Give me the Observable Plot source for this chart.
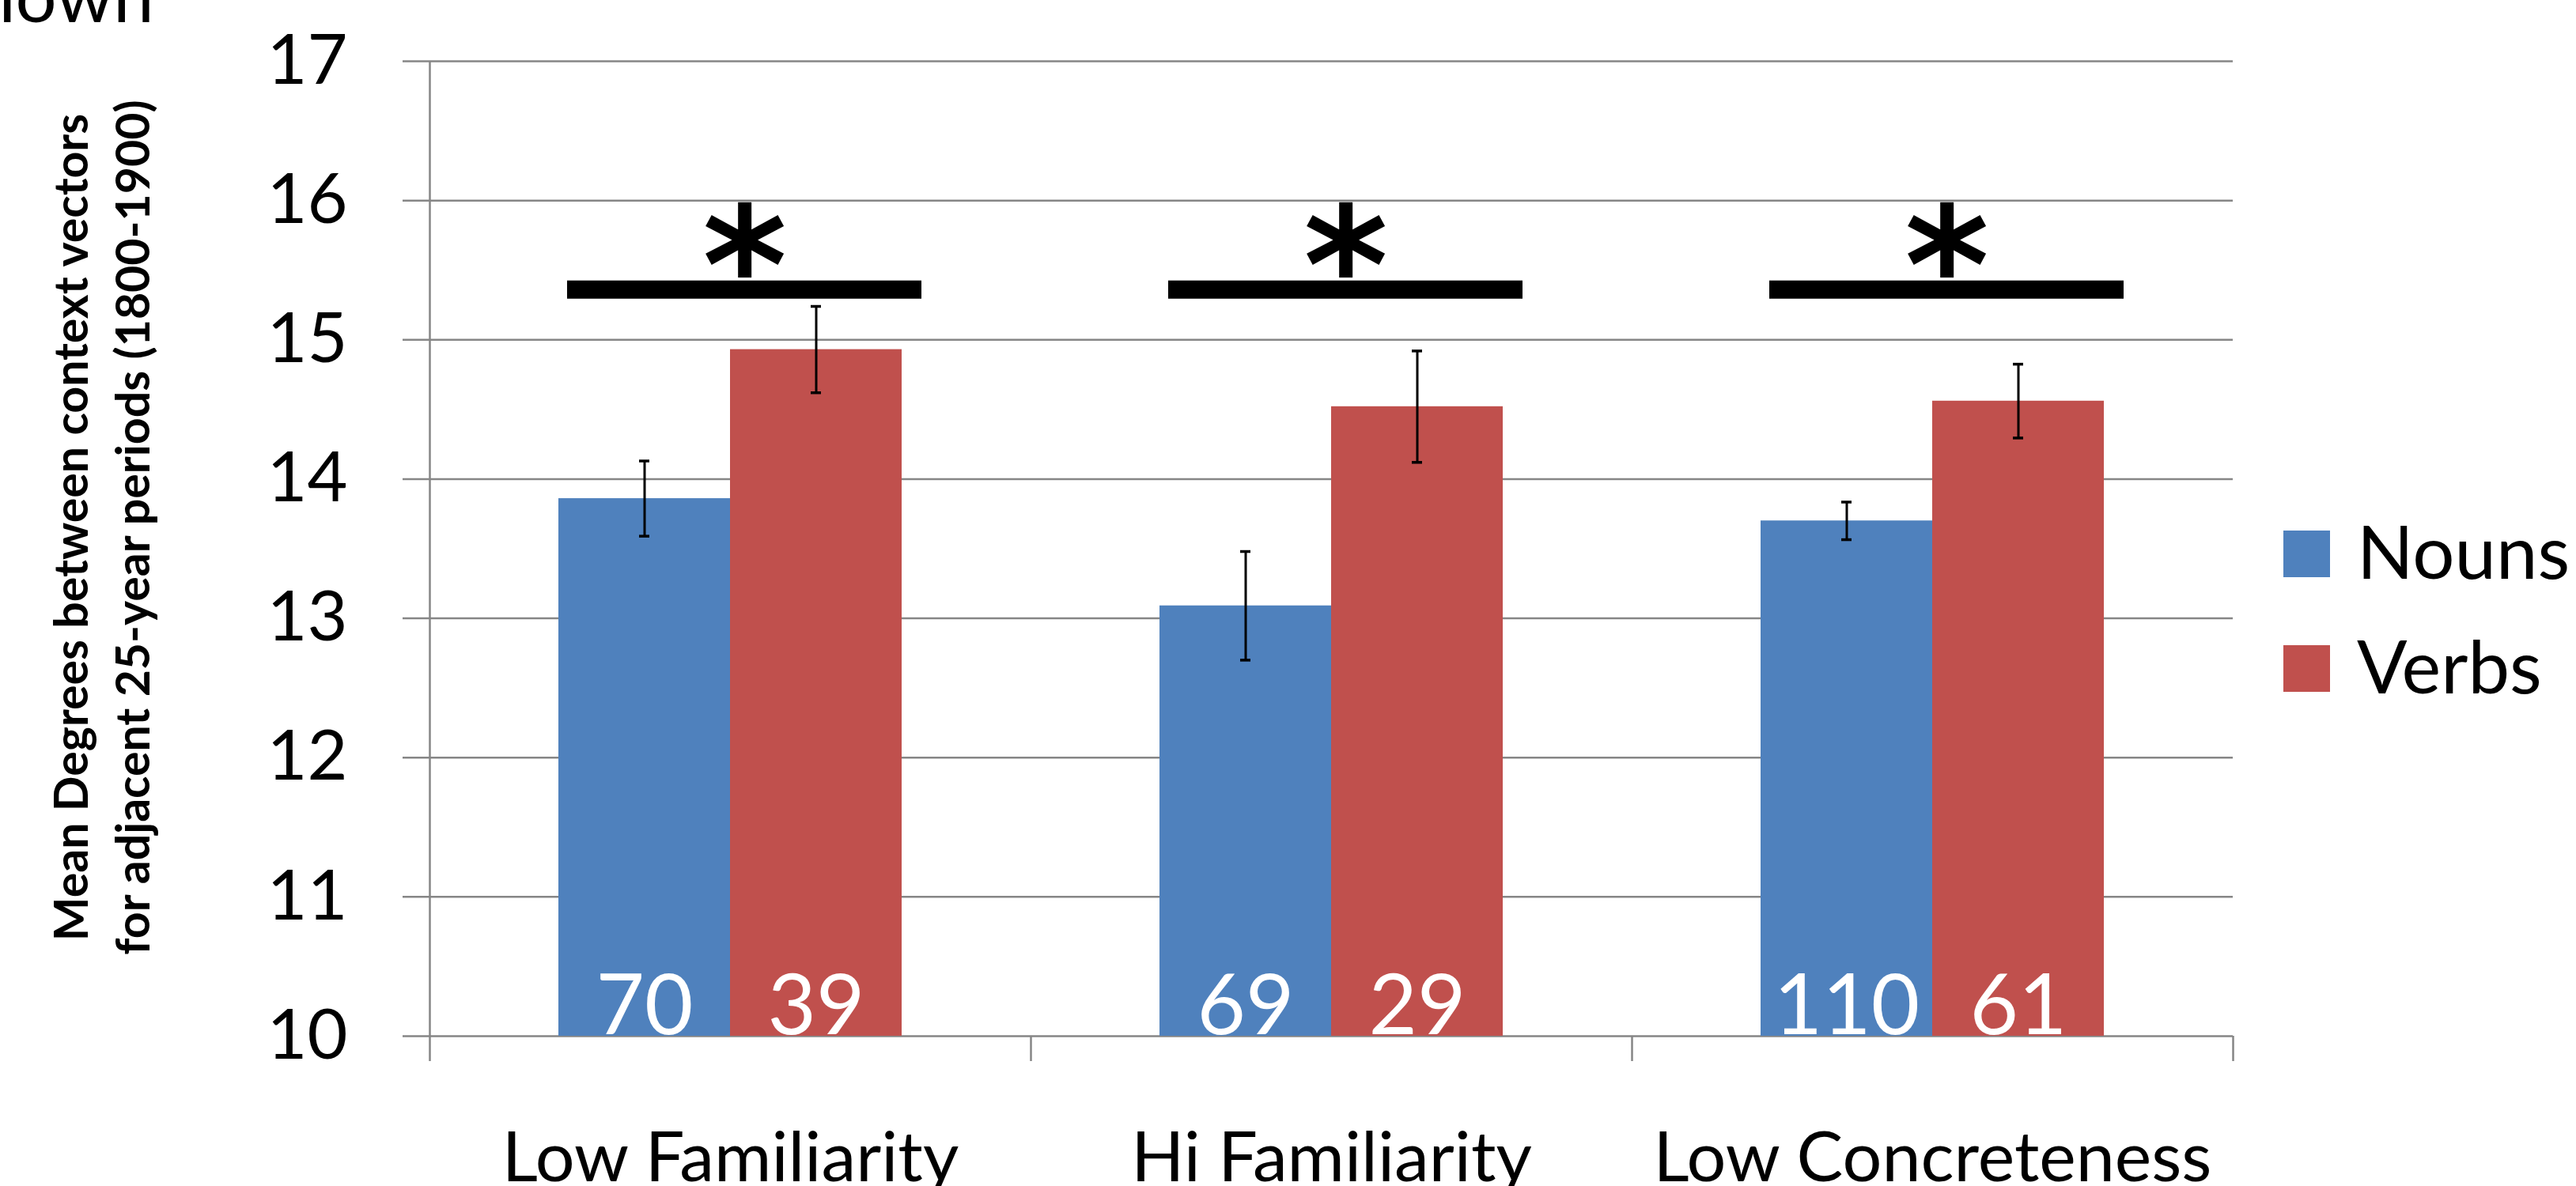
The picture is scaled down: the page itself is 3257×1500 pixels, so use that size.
<!DOCTYPE html>
<html>
<head>
<meta charset="utf-8">
<script src="https://cdn.jsdelivr.net/npm/d3@7"></script>
<script src="https://cdn.jsdelivr.net/npm/@observablehq/plot@0.6"></script>
<style>
  html, body { margin: 0; padding: 0; background: #ffffff; overflow: hidden; }
  #wrap { position: relative; width: 3257px; height: 1500px; overflow: hidden; }
  #chart { position: absolute; left: 0; top: 0; }
  #legend { position: absolute; left: 0; top: 0; pointer-events: none; }
</style>
</head>
<body>
<div id="wrap">
  <div id="chart"></div>
  <svg id="legend" width="3257" height="1500"></svg>
</div>
<script>
// ---------- data ----------
const categories = ["Low Familiarity", "Hi Familiarity", "Low Concreteness"];
const series = ["Nouns", "Verbs"];
const colors = ["#4F81BD", "#C0504D"];
const nounMeans = [13.86, 13.09, 13.70];
const verbMeans = [14.93, 14.52, 14.56];
const nounErr = [0.27, 0.39, 0.135];
const verbErr = [0.31, 0.40, 0.265];
const nounCounts = [70, 69, 110];
const verbCounts = [39, 29, 61];
const sigLevel = [15.36, 15.36, 15.36];
const starLevel = [15.71, 15.71, 15.71];
const yTicks = [10, 11, 12, 13, 14, 15, 16, 17];
const yDomain = [10, 17];
const yTitle = ["Mean Degrees between context vectors", "for adjacent 25-year periods (1800-1900)"];
const topFragment = "shown";

// ---------- layout ----------
const W = 3257, H = 1500;
const ML = 543, MR = 434, MT = 77, MB = 190;
const facetW = (W - ML - MR) / categories.length;
const unitPx = (H - MT - MB) / (yDomain[1] - yDomain[0]);
const tickLen = 32 / unitPx;
const GRID = "#868686";
const FONT = "Lato, 'Open Sans', sans-serif";

const rows = categories.flatMap((c, i) => [
  {category: c, series: series[0], value: nounMeans[i], err: nounErr[i], n: nounCounts[i]},
  {category: c, series: series[1], value: verbMeans[i], err: verbErr[i], n: verbCounts[i]}
]);

const chart = Plot.plot({
  width: W,
  height: H,
  marginLeft: ML,
  marginRight: MR,
  marginTop: MT,
  marginBottom: MB,
  style: {fontFamily: FONT, fontSize: "88px", background: "transparent", overflow: "visible", color: "black"},
  fx: {domain: categories, padding: 0, label: null, tickSize: 0, tickPadding: 121, axis: "bottom"},
  x: {domain: series, paddingInner: 0, paddingOuter: 0.75, axis: null},
  y: {domain: yDomain, axis: null},
  color: {domain: series, range: colors},
  marks: [
    Plot.gridY(yTicks, {stroke: GRID, strokeOpacity: 1, strokeWidth: 2.5}),
    Plot.axisY(yTicks, {tickSize: 34, tickPadding: 70, stroke: GRID, strokeWidth: 2.5, fill: "black",
      fontSize: 88, label: null, tickFormat: d => String(d)}),
    // y axis line (extends below baseline like a category tick)
    Plot.ruleX([categories[0]], {fx: d => d, x: null, y1: yDomain[0] - tickLen, y2: yDomain[1],
      dx: -facetW / 2, stroke: GRID, strokeWidth: 2.5}),
    // category boundary ticks
    Plot.ruleX(categories.slice(1), {fx: d => d, x: null, y1: yDomain[0] - tickLen, y2: yDomain[0],
      dx: -facetW / 2, stroke: GRID, strokeWidth: 2.5}),
    Plot.ruleX([categories[categories.length - 1]], {fx: d => d, x: null, y1: yDomain[0] - tickLen, y2: yDomain[0],
      dx: facetW / 2, stroke: GRID, strokeWidth: 2.5}),
    // bars
    Plot.barY(rows, {fx: "category", x: "series", y1: yDomain[0], y2: "value", fill: "series"}),
    // error bars
    Plot.ruleX(rows, {fx: "category", x: "series", y1: d => d.value - d.err, y2: d => d.value + d.err,
      stroke: "black", strokeWidth: 3}),
    Plot.tickY(rows, {fx: "category", x: "series", y: d => d.value - d.err, insetLeft: 102, insetRight: 102,
      stroke: "black", strokeWidth: 3.5}),
    Plot.tickY(rows, {fx: "category", x: "series", y: d => d.value + d.err, insetLeft: 102, insetRight: 102,
      stroke: "black", strokeWidth: 3.5}),
    // counts
    Plot.text(rows, {fx: "category", x: "series", y: yDomain[0], text: d => String(d.n), fill: "white",
      fontSize: 106, lineAnchor: "bottom", dy: -3, fontFamily: FONT}),
    // significance bars
    Plot.ruleY(categories, {fx: d => d, x1: () => series[0], x2: () => series[1],
      y: (d, i) => sigLevel[i], stroke: "black", strokeWidth: 23, insetLeft: -7, insetRight: -7, dx: 18}),
    Plot.text(categories, {fx: d => d, y: (d, i) => starLevel[i], text: () => "*",
      fontFamily: "'DejaVu Sans', sans-serif", fontWeight: "bold", fontSize: 205, lineAnchor: "middle",
      dx: 18, dy: 38}),
    // y title, two lines
    Plot.text([categories[0]], {fx: d => d, text: () => yTitle[0], frameAnchor: "left", rotate: -90,
      dx: 110 - ML, dy: -27, lineAnchor: "bottom", textAnchor: "middle", fontWeight: "bold", fontSize: 59}),
    Plot.text([categories[0]], {fx: d => d, text: () => yTitle[1], frameAnchor: "left", rotate: -90,
      dx: 188 - ML, dy: -27, lineAnchor: "bottom", textAnchor: "middle", fontWeight: "bold", fontSize: 59}),
    // cropped title fragment at top-left
    Plot.text([categories[0]], {fx: d => d, text: () => topFragment, frameAnchor: "top-left",
      dx: 194 - ML, dy: 27 - MT, textAnchor: "end", lineAnchor: "bottom", fontSize: 92})
  ]
});
document.getElementById("chart").appendChild(chart);

// ---------- legend ----------
const leg = d3.select("#legend");
const legX = 2887, legY = 671, legStep = 145, sw = 59;
series.forEach((s, i) => {
  leg.append("rect").attr("x", legX).attr("y", legY + i * legStep).attr("width", sw).attr("height", sw)
    .attr("fill", colors[i]);
  leg.append("text").attr("x", legX + 93).attr("y", legY + 61 + i * legStep)
    .attr("font-family", "Lato, 'Open Sans', sans-serif").attr("font-size", 94).attr("fill", "black")
    .text(s);
});
</script>
</body>
</html>
